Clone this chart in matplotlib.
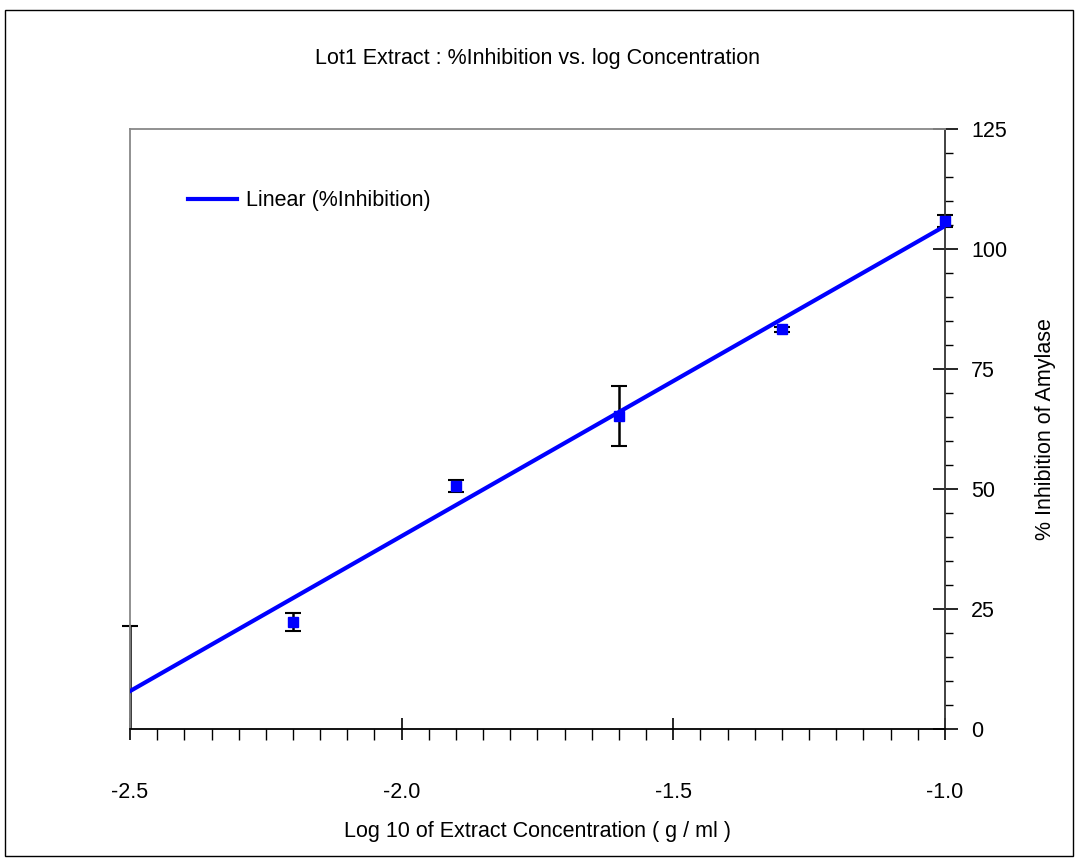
import matplotlib
matplotlib.use("Agg")
import matplotlib.pyplot as plt
from matplotlib.patches import Rectangle
from matplotlib.ticker import MultipleLocator
import numpy as np

plt.rcParams['font.family'] = ['Liberation Sans', 'DejaVu Sans']

# data
log_conc = [-2.5, -2.2, -1.9, -1.6, -1.3, -1.0]
inhibition = [-4.0, 22.3, 50.6, 65.2, 83.3, 105.8]
inhib_err = [25.5, 1.8, 1.3, 6.3, 0.5, 1.3]
# linear trend (slope, intercept) as shown on the chart
fit_slope = 64.6
fit_icept = 169.4

FS = 15.5

fig = plt.figure(figsize=(10.78, 8.59), dpi=100)
ax = fig.add_axes([0.1206, 0.1513, 0.756, 0.6985])

# outer frame of the chart
fig.patches.append(Rectangle((0.005, 0.004), 0.99, 0.984, transform=fig.transFigure,
                             fill=False, edgecolor='black', linewidth=1.0))

xs = np.array([log_conc[0], log_conc[-1]])
ax.plot(xs, fit_slope * xs + fit_icept, color='#0000ff', lw=3, label='Linear (%Inhibition)', zorder=3)
eb = ax.errorbar(log_conc, inhibition, yerr=inhib_err, fmt='none', ecolor='black',
                 elinewidth=1.8, capsize=6, capthick=1.5, zorder=2)
pts, = ax.plot(log_conc, inhibition, 's', color='#0000ff', ms=7, zorder=4)

# clip bars only in y so the edge bars stay visible
clip = Rectangle((-0.03, 0), 1.06, 1, transform=ax.transAxes, visible=False)
ax.add_patch(clip)
for art in list(eb.lines[1]) + list(eb.lines[2]) + [pts]:
    art.set_clip_path(clip)

ax.set_xlim(-2.5, -1.0)
ax.set_ylim(0, 125)
ax.xaxis.set_minor_locator(MultipleLocator(0.05))
ax.yaxis.set_major_locator(MultipleLocator(25))
ax.yaxis.set_minor_locator(MultipleLocator(5))
ax.set_xticks([-2.5, -2.0, -1.5, -1.0])
ax.set_xticklabels(['-2.5', '-2.0', '-1.5', '-1.0'])

ax.yaxis.tick_right()
ax.yaxis.set_label_position('right')
ax.tick_params(axis='x', which='major', direction='inout', length=16, width=1.2, pad=30, labelsize=FS)
ax.tick_params(axis='x', which='minor', direction='out', length=8, width=1.0)
ax.tick_params(axis='y', which='major', direction='inout', length=18, width=1.2, pad=10, labelsize=FS)
ax.tick_params(axis='y', which='minor', direction='out', length=6, width=1.0)

ax.spines['left'].set_color('#888888')
ax.spines['top'].set_color('#888888')
ax.spines['right'].set_color('#333333')
ax.spines['bottom'].set_color('black')
for s in ax.spines.values():
    s.set_linewidth(1.3)

ax.set_title('Lot1 Extract : %Inhibition vs. log Concentration', fontsize=FS, pad=47)
ax.set_xlabel('Log 10 of Extract Concentration ( g / ml )', fontsize=FS, labelpad=13)
ax.set_ylabel('% Inhibition of Amylase', fontsize=FS, labelpad=20)

ax.legend(loc='upper left', bbox_to_anchor=(0.047, 0.93), frameon=False, fontsize=FS,
          handlelength=2.3, handletextpad=0.4)

fig.savefig('out.png', dpi=100)
